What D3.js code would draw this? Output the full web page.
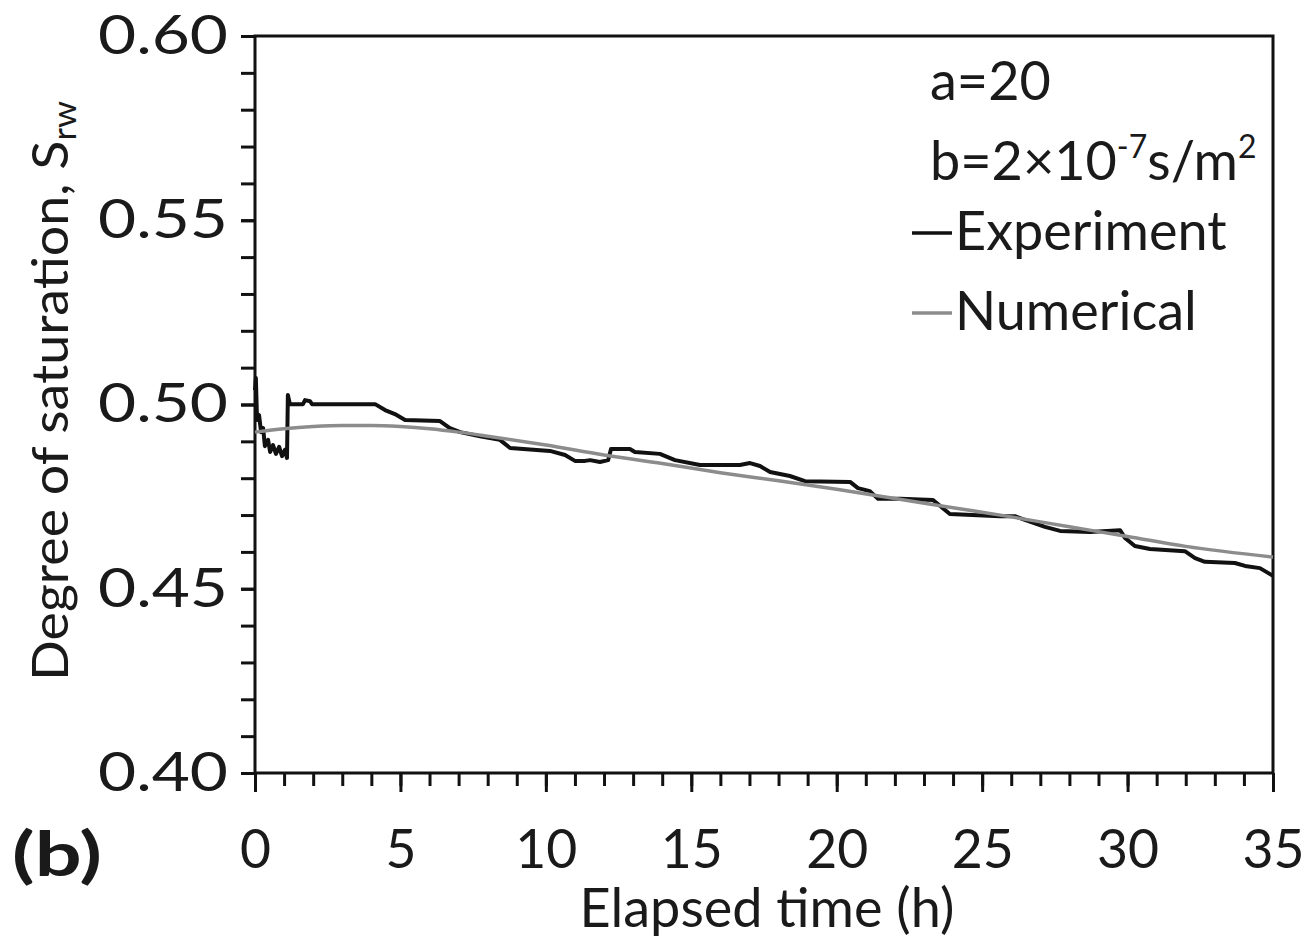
<!DOCTYPE html>
<html>
<head>
<meta charset="utf-8" />
<script src="https://d3js.org/d3.v7.min.js"></script>
<style>
  body { margin: 0; background: #fff; }
  text { font-family: Lato, "Open Sans", sans-serif; fill: #1a1a1a; }
  .domain { display: none; }
</style>
</head>
<body>
<svg id="chart" width="1305" height="938"></svg>
<script>
// experiment (black) - time in h, degree of saturation
var expTime = [0, 0.03, 0.07, 0.14, 0.21, 0.28, 0.34, 0.45, 0.52, 0.62, 0.72, 0.83, 0.93, 1.03, 1.10, 1.13, 1.20,
  1.65, 1.72, 1.89, 1.96, 4.13, 4.47, 4.81, 5.16, 6.36, 6.70, 7.05, 7.74, 8.42, 8.77, 10.14, 10.66, 11.00,
  11.35, 11.52, 11.86, 12.14, 12.24, 12.89, 13.06, 13.92, 14.44, 15.30, 16.67, 17.02, 17.36, 17.71, 18.39,
  18.91, 20.46, 20.73, 21.14, 21.42, 22.18, 23.31, 23.55, 23.89, 25.61, 26.13, 26.47, 27.16, 27.68, 28.71,
  29.74, 29.91, 30.25, 30.77, 31.97, 32.32, 32.66, 33.69, 34.04, 34.55, 35.0];
var expSat = [0.5039, 0.5072, 0.4958, 0.4971, 0.4925, 0.4936, 0.4887, 0.4904, 0.4871, 0.4890, 0.4866, 0.4885, 0.4860, 0.4877, 0.4855, 0.5026, 0.5001,
  0.5001, 0.5012, 0.5009, 0.5001, 0.5001, 0.4985, 0.4974, 0.4958, 0.4955, 0.4936, 0.4925, 0.4914, 0.4904, 0.4882, 0.4874, 0.4863, 0.4847,
  0.4847, 0.4849, 0.4844, 0.4849, 0.4879, 0.4879, 0.4871, 0.4866, 0.4849, 0.4836, 0.4836, 0.4841, 0.4833, 0.4817, 0.4806,
  0.4792, 0.4790, 0.4773, 0.4765, 0.4744, 0.4744, 0.4741, 0.4725, 0.4703, 0.4697, 0.4697, 0.4687, 0.4668, 0.4657, 0.4654,
  0.4659, 0.4638, 0.4616, 0.4608, 0.4602, 0.4583, 0.4573, 0.4570, 0.4562, 0.4556, 0.4535];

// numerical (grey)
var numTime = [0, 1, 2, 3, 4, 5, 6, 7, 8, 10, 12, 14, 16, 18, 20, 22, 24, 26, 28, 30, 32, 35];
var numSat = [0.4925, 0.4934, 0.4940, 0.4943, 0.4943, 0.4940, 0.4934, 0.4925, 0.4914, 0.4890, 0.4863, 0.4840,
  0.4815, 0.4793, 0.4770, 0.4745, 0.4720, 0.4695, 0.4668, 0.4642, 0.4615, 0.4586];

var xMajor = [0, 5, 10, 15, 20, 25, 30, 35];
var yMajor = [0.40, 0.45, 0.50, 0.55, 0.60];

var svg = d3.select("#chart");
var plotL = 255, plotR = 1273, plotT = 36, plotB = 773;

var x = d3.scaleLinear().domain([0, 35]).range([plotL, plotR]);
var y = d3.scaleLinear().domain([0.40, 0.60]).range([plotB, plotT]);

var fontSize = 54;

// minor ticks
svg.append("g")
  .attr("transform", "translate(0," + plotB + ")")
  .call(d3.axisBottom(x).tickValues(d3.range(0, 36, 1)).tickSize(13).tickFormat(""))
  .selectAll("line").attr("stroke", "#111").attr("stroke-width", 3);
svg.append("g")
  .attr("transform", "translate(" + plotL + ",0)")
  .call(d3.axisLeft(y).tickValues(d3.range(0, 21).map(function(i) { return 0.40 + i * 0.01; })).tickSize(14).tickFormat(""))
  .selectAll("line").attr("stroke", "#111").attr("stroke-width", 3);

// major ticks + labels
var xAx = svg.append("g")
  .attr("transform", "translate(0," + plotB + ")")
  .call(d3.axisBottom(x).tickValues(xMajor).tickSize(19).tickPadding(38).tickFormat(d3.format("d")));
xAx.selectAll("line").attr("stroke", "#111").attr("stroke-width", 3);
xAx.selectAll("text").attr("font-size", fontSize).attr("fill", "#1a1a1a")
  .attr("dy", "0.71em").style("font-family", "Lato, sans-serif")
  .attr("textLength", function(d) { return d < 10 ? 31 : 62; }).attr("lengthAdjust", "spacingAndGlyphs");

var yAx = svg.append("g")
  .attr("transform", "translate(" + plotL + ",0)")
  .call(d3.axisLeft(y).tickValues(yMajor).tickSize(14).tickPadding(13).tickFormat(d3.format(".2f")));
yAx.selectAll("line").attr("stroke", "#111").attr("stroke-width", 3);
yAx.selectAll("text").attr("font-size", fontSize).attr("fill", "#1a1a1a")
  .style("font-family", "Lato, sans-serif")
  .attr("textLength", 130).attr("lengthAdjust", "spacingAndGlyphs");

// frame
svg.append("path")
  .attr("d", "M" + plotL + "," + plotB + "V" + plotT + "H" + plotR + "V" + plotB + "H" + plotL)
  .attr("fill", "none").attr("stroke", "#111").attr("stroke-width", 3);

// lines
var expData = expTime.map(function(t, i) { return [t, expSat[i]]; });
var numData = numTime.map(function(t, i) { return [t, numSat[i]]; });

svg.append("path").datum(expData)
  .attr("d", d3.line().x(function(d) { return x(d[0]); }).y(function(d) { return y(d[1]); }))
  .attr("fill", "none").attr("stroke", "#111").attr("stroke-width", 4)
  .attr("stroke-linejoin", "round");
svg.append("path").datum(numData)
  .attr("d", d3.line().x(function(d) { return x(d[0]); }).y(function(d) { return y(d[1]); }).curve(d3.curveMonotoneX))
  .attr("fill", "none").attr("stroke", "#8c8c8c").attr("stroke-width", 3.5);

// axis titles
svg.append("text")
  .attr("x", 767).attr("y", 927)
  .attr("text-anchor", "middle").attr("font-size", fontSize)
  .text("Elapsed time (h)");

var yt = svg.append("text")
  .attr("transform", "translate(68,391) rotate(-90)")
  .attr("text-anchor", "middle").attr("font-size", 50)
  .attr("textLength", 580).attr("lengthAdjust", "spacingAndGlyphs");
yt.append("tspan").text("Degree of saturation, S");
yt.append("tspan").attr("font-size", 32).attr("dy", 8).text("rw");

svg.append("text")
  .attr("x", 12).attr("y", 876)
  .attr("font-size", 62).attr("font-weight", "bold")
  .attr("textLength", 90).attr("lengthAdjust", "spacingAndGlyphs")
  .text("(b)");

// annotation / legend
svg.append("text").attr("x", 930).attr("y", 100).attr("font-size", fontSize).text("a=20");
var bt = svg.append("text").attr("x", 930).attr("y", 180).attr("font-size", fontSize);
bt.append("tspan").text("b=2\u00d710");
bt.append("tspan").attr("font-size", 32).attr("dy", -22).text("-7");
bt.append("tspan").attr("dy", 22).text("s/m");
bt.append("tspan").attr("font-size", 32).attr("dy", -22).text("2");

var legend = [["Experiment", "#111", 250], ["Numerical", "#8c8c8c", 330]];
legend.forEach(function(l) {
  svg.append("line").attr("x1", 912).attr("x2", 952)
    .attr("y1", l[2] - 17).attr("y2", l[2] - 17)
    .attr("stroke", l[1]).attr("stroke-width", 3.5);
  svg.append("text").attr("x", 955).attr("y", l[2]).attr("font-size", fontSize).text(l[0]);
});
</script>
</body>
</html>
